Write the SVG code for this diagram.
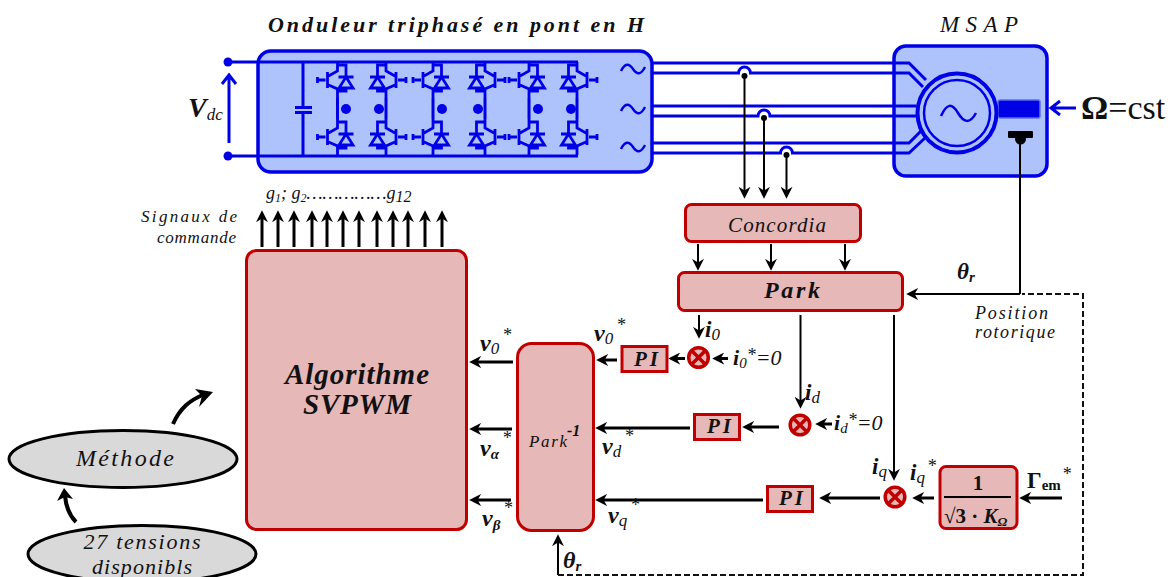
<svg xmlns="http://www.w3.org/2000/svg" xmlns:xlink="http://www.w3.org/1999/xlink" width="1175" height="577" viewBox="0 0 1175 577">
<style>
text{font-family:"Liberation Serif","Times New Roman",serif;font-style:italic;fill:#111}
.b{font-weight:bold}
.n{font-style:normal}
.r{fill:#e6b8b7;stroke:#c00000;stroke-width:3}
.bl{fill:#aec3fb;stroke:#0000e6;stroke-width:3.5}
.w{fill:none;stroke:#0000e6;stroke-width:3}
.k{fill:none;stroke:#000;stroke-width:2}
.t{fill:none;stroke:#000;stroke-width:3}
.m{text-anchor:middle}
.d{fill:none;stroke:#111;stroke-width:2;stroke-dasharray:6 3}
.x{stroke:#c00000;stroke-width:3.5;fill:none}
</style>
<defs>
<marker id="a" markerUnits="userSpaceOnUse" markerWidth="12" markerHeight="12" refX="6" refY="5" viewBox="0 0 10 10" orient="auto"><path d="M10,5 L0,0 L3,5 L0,10z" fill="#000"/></marker>
<g id="igbt" fill="none" stroke="#0000e6" stroke-width="2.800">
<path d="M0,-18V-9L-9,-4M-9,5L0,9V18M0,-15H8.500V-3M1,-3H16M8.500,-3L15.500,8H1.500ZM8.500,8V11H0M-20,-3V3M-20,0H-12M-10,-8V8"/>
</g>
<path id="sine" d="M-12,2C-8,-6 -4,-6 0,0S8,6 12,-2" fill="none" stroke="#0000e6" stroke-width="2.400"/>
<g id="cross"><circle r="9.800" class="r" style="stroke-width:3.500"/><path class="x" d="M-6.500,-6.500L6.500,6.500M-6.500,6.500L6.500,-6.500"/></g>
</defs>
<rect width="1175" height="577" fill="#fff"/>

<g id="inverter">
<rect class="bl" x="258" y="51" width="394" height="121" rx="13"/>
<path class="w" d="M228,62H578M228,156H578M303,62V107M303,113V156M295,107.500H312M295,112.500H312"/>
<circle cx="228" cy="62" r="4.500" fill="#0000e6"/><circle cx="228" cy="156" r="4.500" fill="#0000e6"/>
<g id="switches">
<path class="w" d="M337.500,98V119M386,98V119M433,98V119M485,98V119M529,98V119M577,98V119"/>
<use href="#igbt" transform="translate(337.500,80)"/><use href="#igbt" transform="translate(337.500,137)"/>
<use href="#igbt" transform="translate(386,80) scale(-1,1)"/><use href="#igbt" transform="translate(386,137) scale(-1,1)"/>
<use href="#igbt" transform="translate(433,80)"/><use href="#igbt" transform="translate(433,137)"/>
<use href="#igbt" transform="translate(485,80) scale(-1,1)"/><use href="#igbt" transform="translate(485,137) scale(-1,1)"/>
<use href="#igbt" transform="translate(529,80)"/><use href="#igbt" transform="translate(529,137)"/>
<use href="#igbt" transform="translate(577,80) scale(-1,1)"/><use href="#igbt" transform="translate(577,137) scale(-1,1)"/>
<g fill="#0000e6"><circle cx="346" cy="109" r="5"/><circle cx="379" cy="109" r="5"/><circle cx="442" cy="109" r="5"/><circle cx="478" cy="109" r="5"/><circle cx="538" cy="109" r="5"/><circle cx="571" cy="109" r="5"/></g>
</g>
<use href="#sine" transform="translate(633,69)"/><use href="#sine" transform="translate(633,109)"/><use href="#sine" transform="translate(633,147)"/>
</g>

<g id="msap">
<rect class="bl" x="894" y="46" width="153" height="130" rx="12"/>
<rect x="998" y="100" width="42" height="18" rx="2" fill="#0000e6" stroke="#5a6ff0" stroke-width="1.500"/>
<rect x="1008" y="131" width="25" height="7" rx="1" fill="#000"/>
<circle cx="1020.500" cy="139" r="5.500" fill="#000"/>
</g>

<g id="connectors">
<path class="w" d="M653,63H909L926,80M653,73H738.500A6,6 0 0 1 750.500,73H909L923,87M653,106H916M653,116H758A6,6 0 0 1 770,116H916M653,143H909L921,131M653,153H780.500A6,6 0 0 1 792.500,153H909L925,138"/>
<path class="w" stroke-width="2.500" d="M229,143V76M222,84L229,75L236,84"/>
<path class="w" stroke-width="2.500" d="M1076,108H1052M1060,101L1051,108L1060,115"/>
<g fill="#000"><circle cx="744.500" cy="76" r="3"/><circle cx="764" cy="118" r="3"/><circle cx="786.500" cy="155" r="3"/></g>
<g class="k">
<path marker-end="url(#a)" d="M744.500,76V194"/><path marker-end="url(#a)" d="M764,118V194"/><path marker-end="url(#a)" d="M786.500,155V194"/>
<path marker-end="url(#a)" d="M698,244V266"/><path marker-end="url(#a)" d="M771,244V266"/><path marker-end="url(#a)" d="M845,244V266"/>
<path marker-end="url(#a)" d="M699,315V334"/><path marker-end="url(#a)" d="M800.500,315V404"/><path marker-end="url(#a)" d="M894,315V476"/>
<path d="M1020,139V294"/><path marker-end="url(#a)" d="M1020,294H911"/>
<path marker-end="url(#a)" d="M558,575V539"/>
</g>
<path class="d" d="M558,575H1083V294H1022"/>
<g class="t">
<path marker-end="url(#a)" d="M262,247V215"/><path marker-end="url(#a)" d="M278,247V215"/><path marker-end="url(#a)" d="M294,247V215"/><path marker-end="url(#a)" d="M312,247V215"/><path marker-end="url(#a)" d="M327,247V215"/><path marker-end="url(#a)" d="M343,247V215"/><path marker-end="url(#a)" d="M359,247V215"/><path marker-end="url(#a)" d="M377,247V215"/><path marker-end="url(#a)" d="M393,247V215"/><path marker-end="url(#a)" d="M408,247V215"/><path marker-end="url(#a)" d="M425,247V215"/><path marker-end="url(#a)" d="M442,247V215"/>
<path marker-end="url(#a)" d="M513,362H474"/><path marker-end="url(#a)" d="M512,429H474"/><path marker-end="url(#a)" d="M511,500H474"/>
<path marker-end="url(#a)" d="M617,360H601"/><path marker-end="url(#a)" d="M690,428H600"/><path marker-end="url(#a)" d="M763,500H600"/>
<path marker-end="url(#a)" d="M685,358.500H673"/><path marker-end="url(#a)" d="M728,358.500H717"/>
<path marker-end="url(#a)" d="M779,427H747"/><path marker-end="url(#a)" d="M832,424H820"/>
<path marker-end="url(#a)" d="M880,498H824"/><path marker-end="url(#a)" d="M934,498H917"/><path marker-end="url(#a)" d="M1062,498H1024"/>
</g>
<path d="M173,424C180,408 190,400 205,394" fill="none" stroke="#000" stroke-width="4"/>
<path d="M213,392L195,389L202,396L199,407Z" fill="#000"/>
<path d="M76,522C70,516 66,506 65,496" fill="none" stroke="#000" stroke-width="4"/>
<path d="M64,488L57,501L65,497L73,499Z" fill="#000"/>
</g>

<g id="motor-circle">
<circle cx="957" cy="113" r="39.500" fill="#aec3fb" stroke="#0000e6" stroke-width="4"/>
<circle cx="957" cy="113" r="33" fill="#aec3fb" stroke="#0000e6" stroke-width="2.500"/>
<path d="M941,116C947,103 952,103 958,113S970,124 976,113" fill="none" stroke="#0000e6" stroke-width="2.500"/>
</g>

<g id="concordia"><rect class="r" x="685.500" y="204.500" width="175" height="37" rx="6"/><text class="m" x="777" y="232" font-size="21" textLength="98">Concordia</text></g>
<g id="park"><rect class="r" x="678.500" y="272.500" width="224" height="38" rx="6"/><text class="m b" x="792" y="298" font-size="24" textLength="56">Park</text></g>
<g id="svpwm"><rect class="r" x="246.500" y="250.500" width="220" height="279" rx="10"/><text class="m b" x="357" y="384" font-size="29" textLength="144">Algorithme</text><text class="m b" x="357" y="414" font-size="29" textLength="108">SVPWM</text></g>
<g id="park-inv"><rect class="r" x="517.500" y="343.500" width="76" height="187" rx="14"/><text x="529" y="447" font-size="17" textLength="38">Park</text><text class="b" x="567" y="436" font-size="16">-1</text></g>
<g id="pi0"><rect class="r" x="622" y="346.500" width="45" height="25"/><text class="m b" x="646" y="366" font-size="21" textLength="24">PI</text></g>
<g id="pid"><rect class="r" x="694.500" y="414.500" width="45" height="25"/><text class="m b" x="719" y="433" font-size="21" textLength="24">PI</text></g>
<g id="piq"><rect class="r" x="767.500" y="486.500" width="45" height="25"/><text class="m b" x="791" y="505" font-size="21" textLength="24">PI</text></g>
<g id="sum0"><use href="#cross" transform="translate(698.500,357.500)"/></g>
<g id="sumd"><use href="#cross" transform="translate(800,425)"/></g>
<g id="sumq"><use href="#cross" transform="translate(895,497)"/></g>
<g id="gain"><rect class="r" x="940" y="466.500" width="77" height="62" rx="6"/>
<text class="m b n" x="978" y="490" font-size="21">1</text><path d="M944,497H1011" stroke="#000" stroke-width="2"/>
<text class="b n" x="944" y="523" font-size="21">√3 · <tspan font-style="italic">K</tspan><tspan font-style="italic" font-size="13" dy="3">Ω</tspan></text></g>
<g id="methode"><ellipse cx="123" cy="459" rx="114" ry="28.500" fill="#d9d9d9" stroke="#000" stroke-width="3"/><text class="m" x="125" y="466" font-size="24" textLength="98">Méthode</text></g>
<g id="tensions"><ellipse cx="142" cy="554" rx="114" ry="28.500" fill="#d9d9d9" stroke="#000" stroke-width="3"/><text class="m" x="142" y="549" font-size="22" textLength="117">27 tensions</text><text class="m" x="142" y="574" font-size="22" textLength="100">disponibls</text></g>

<g id="labels">
<text class="b" x="268" y="32" font-size="22" textLength="376">Onduleur triphasé en pont en H</text>
<text x="940" y="32" font-size="23" textLength="78">MSAP</text>
<text class="b" x="188" y="117" font-size="28">V<tspan font-weight="normal" font-size="17" dy="3">dc</tspan></text>
<text x="266" y="199" font-size="18">g<tspan font-size="12" dy="3">1</tspan><tspan dy="-3">;  g</tspan><tspan font-size="12" dy="3">2</tspan><tspan dy="-3">……………g</tspan><tspan font-size="16" dy="3">12</tspan></text>
<text x="237" y="222" font-size="17" text-anchor="end" textLength="96">Signaux de</text>
<text x="236" y="243" font-size="17" text-anchor="end" textLength="79">commande</text>
<text class="b n" x="1081" y="119" font-size="34">Ω<tspan font-weight="normal">=cst</tspan></text>
<text class="b" x="957" y="279" font-size="23">θ<tspan font-size="15" dy="3">r</tspan></text>
<text x="975" y="319" font-size="18" textLength="73">Position</text>
<text x="975" y="338" font-size="18" textLength="80">rotorique</text>
<text class="b" x="705" y="337" font-size="23">i<tspan font-weight="normal" font-size="17" dy="3">0</tspan></text>
<text x="733" y="365" font-size="22"><tspan font-weight="bold">i</tspan><tspan font-size="15" dy="3">0</tspan><tspan font-size="18" dy="-7">*</tspan><tspan dy="4">=0</tspan></text>
<text class="b" x="805" y="400" font-size="23">i<tspan font-weight="normal" font-size="17" dy="3">d</tspan></text>
<text x="834" y="430" font-size="22"><tspan font-weight="bold">i</tspan><tspan font-size="15" dy="3">d</tspan><tspan font-size="18" dy="-7">*</tspan><tspan dy="4">=0</tspan></text>
<text class="b" x="872" y="474" font-size="23">i<tspan font-weight="normal" font-size="17" dy="3">q</tspan></text>
<text class="b" x="910" y="480" font-size="23">i<tspan font-weight="normal" font-size="17" dy="3">q</tspan><tspan font-weight="normal" font-size="18" dy="-11" dx="2">*</tspan></text>
<text class="b n" x="1027" y="488" font-size="23">Γ<tspan font-size="15" dy="2">em</tspan><tspan font-weight="normal" font-size="18" dy="-10" dx="2">*</tspan></text>
<text class="b" x="594" y="341" font-size="24">v<tspan font-weight="normal" font-size="17" dy="3">0</tspan><tspan font-weight="normal" font-size="18" dy="-13" dx="3">*</tspan></text>
<text class="b" x="480" y="351" font-size="24">v<tspan font-weight="normal" font-size="17" dy="3">0</tspan><tspan font-weight="normal" font-size="18" dy="-13" dx="3">*</tspan></text>
<text class="b" x="480" y="456" font-size="24">v<tspan font-size="15" dy="3">α</tspan><tspan font-weight="normal" font-size="18" dy="-15" dx="3">*</tspan></text>
<text class="b" x="482" y="526" font-size="24">v<tspan font-size="15" dy="4">β</tspan><tspan font-weight="normal" font-size="18" dy="-16" dx="3">*</tspan></text>
<text class="b" x="602" y="454" font-size="24">v<tspan font-weight="normal" font-size="17" dy="3">d</tspan><tspan font-weight="normal" font-size="18" dy="-15" dx="3">*</tspan></text>
<text class="b" x="608" y="523" font-size="24">v<tspan font-weight="normal" font-size="17" dy="3">q</tspan><tspan font-weight="normal" font-size="18" dy="-15" dx="3">*</tspan></text>
<text class="b" x="563" y="568" font-size="24">θ<tspan font-size="15" dy="3">r</tspan></text>
</g>
</svg>
